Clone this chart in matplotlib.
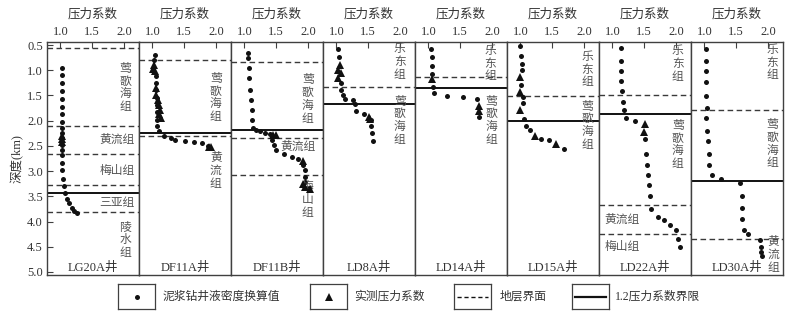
import matplotlib
matplotlib.use("Agg")
import matplotlib.pyplot as plt

plt.rcParams['font.family'] = ['Liberation Serif', 'Noto Sans CJK SC']
plt.rcParams['axes.unicode_minus'] = False

# ---------------- data ----------------
wells = ["LG20A井", "DF11A井", "DF11B井", "LD8A井", "LD14A井", "LD15A井", "LD22A井", "LD30A井"]

lg20a_mud_depth = [0.95, 1.10, 1.26, 1.41, 1.57, 1.72, 1.87, 2.03, 2.15, 2.25, 2.34, 2.48, 2.58, 2.68, 2.83, 2.98, 3.15, 3.30, 3.43, 3.55, 3.64, 3.74, 3.79, 3.83]
lg20a_mud_coef = [1.03, 1.03, 1.03, 1.03, 1.03, 1.03, 1.03, 1.03, 1.03, 1.03, 1.03, 1.03, 1.03, 1.03, 1.03, 1.03, 1.04, 1.05, 1.08, 1.11, 1.13, 1.18, 1.22, 1.26]
lg20a_meas_depth = [2.30, 2.36, 2.42]
lg20a_meas_coef = [1.02, 1.03, 1.02]

df11a_mud_depth = [0.70, 0.80, 1.11, 1.26, 1.39, 1.56, 1.69, 1.82, 1.99, 2.10, 2.20, 2.31, 2.34, 2.39, 2.40, 2.42, 2.45, 2.50]
df11a_mud_coef = [1.045, 1.03, 1.055, 1.06, 1.065, 1.075, 1.07, 1.08, 1.075, 1.07, 1.10, 1.19, 1.29, 1.36, 1.52, 1.66, 1.78, 1.87]
df11a_meas_depth = [0.90, 0.98, 1.02, 1.36, 1.49, 1.59, 1.69, 1.79, 1.86, 1.95, 2.52, 2.53]
df11a_meas_coef = [1.02, 1.01, 1.04, 1.06, 1.06, 1.09, 1.10, 1.12, 1.11, 1.13, 1.90, 1.92]

df11b_mud_depth = [0.65, 0.76, 0.96, 1.16, 1.39, 1.59, 1.79, 1.99, 2.15, 2.19, 2.21, 2.24, 2.27, 2.39, 2.49, 2.58, 2.66, 2.72, 2.75, 2.88, 2.98, 3.11, 3.21, 3.34]
df11b_mud_coef = [1.05, 1.06, 1.08, 1.08, 1.095, 1.105, 1.115, 1.12, 1.14, 1.185, 1.25, 1.33, 1.40, 1.44, 1.475, 1.50, 1.63, 1.755, 1.84, 1.93, 1.95, 1.96, 1.95, 2.02]
df11b_meas_depth = [2.29, 2.29, 2.79, 3.26, 3.31, 3.36]
df11b_meas_coef = [1.45, 1.50, 1.93, 1.92, 1.96, 2.03]

ld8a_mud_depth = [0.58, 0.745, 1.26, 1.39, 1.49, 1.58, 1.59, 1.67, 1.80, 1.86, 1.99, 2.11, 2.24, 2.40]
ld8a_mud_coef = [1.026, 1.04, 1.08, 1.08, 1.10, 1.14, 1.27, 1.29, 1.31, 1.43, 1.55, 1.55, 1.56, 1.57]
ld8a_meas_depth = [0.90, 1.00, 1.06, 1.16, 1.92, 1.96]
ld8a_meas_coef = [1.05, 1.03, 1.066, 1.02, 1.51, 1.53]

ld14a_mud_depth = [0.586, 0.745, 0.917, 1.075, 1.33, 1.45, 1.51, 1.53, 1.57, 1.93]
ld14a_mud_coef = [1.04, 1.05, 1.06, 1.06, 1.08, 1.09, 1.30, 1.55, 1.76, 1.80]
ld14a_meas_depth = [1.18, 1.71, 1.80]
ld14a_meas_coef = [1.06, 1.79, 1.80]

ld15a_mud_depth = [0.52, 0.72, 0.88, 1.00, 1.29, 1.54, 1.64, 1.97, 2.11, 2.19, 2.37, 2.38, 2.56]
ld15a_mud_coef = [1.00, 1.015, 1.026, 1.026, 1.015, 1.04, 1.04, 1.06, 1.09, 1.16, 1.33, 1.45, 1.68]
ld15a_meas_depth = [1.14, 1.43, 1.79, 2.30, 2.46]
ld15a_meas_coef = [1.00, 0.99, 1.00, 1.23, 1.56]

ld22a_mud_depth = [0.55, 0.82, 1.02, 1.21, 1.41, 1.62, 1.79, 1.95, 2.00, 2.37, 2.66, 2.88, 3.08, 3.28, 3.49, 3.75, 3.91, 3.96, 4.06, 4.17, 4.34, 4.51]
ld22a_mud_coef = [1.14, 1.14, 1.14, 1.14, 1.155, 1.165, 1.18, 1.21, 1.36, 1.52, 1.53, 1.545, 1.56, 1.58, 1.60, 1.615, 1.72, 1.82, 1.91, 2.00, 2.03, 2.06]
ld22a_meas_depth = [2.07, 2.22]
ld22a_meas_coef = [1.51, 1.495]

ld30a_mud_depth = [0.585, 0.82, 1.02, 1.23, 1.52, 1.74, 1.95, 2.20, 2.40, 2.66, 2.88, 3.08, 3.16, 3.24, 3.50, 3.74, 3.94, 4.16, 4.25, 4.37, 4.50, 4.60, 4.69]
ld30a_mud_coef = [1.02, 1.02, 1.02, 1.02, 1.02, 1.036, 1.03, 1.036, 1.05, 1.07, 1.08, 1.12, 1.26, 1.56, 1.59, 1.59, 1.59, 1.62, 1.68, 1.87, 1.89, 1.90, 1.91]
ld30a_meas_depth = []
ld30a_meas_coef = []

# stratigraphic boundaries (depth, km) and 1.2 pressure-coefficient limit
strata_depths = [
    [0.55, 2.10, 2.67, 3.27, 3.81],
    [0.80, 2.30],
    [0.83, 2.34, 3.07],
    [1.33],
    [1.14],
    [1.52],
    [1.49, 3.67, 4.24],
    [1.78, 4.34],
]
limit_depths = [3.43, 2.24, 2.19, 1.66, 1.36, 2.01, 1.87, 3.20]

mud_depth = [lg20a_mud_depth, df11a_mud_depth, df11b_mud_depth, ld8a_mud_depth,
             ld14a_mud_depth, ld15a_mud_depth, ld22a_mud_depth, ld30a_mud_depth]
mud_coef = [lg20a_mud_coef, df11a_mud_coef, df11b_mud_coef, ld8a_mud_coef,
            ld14a_mud_coef, ld15a_mud_coef, ld22a_mud_coef, ld30a_mud_coef]
meas_depth = [lg20a_meas_depth, df11a_meas_depth, df11b_meas_depth, ld8a_meas_depth,
              ld14a_meas_depth, ld15a_meas_depth, ld22a_meas_depth, ld30a_meas_depth]
meas_coef = [lg20a_meas_coef, df11a_meas_coef, df11b_meas_coef, ld8a_meas_coef,
             ld14a_meas_coef, ld15a_meas_coef, ld22a_meas_coef, ld30a_meas_coef]

# formation labels: (text, x in coef units, depth, vertical)
formation_labels = [
    [("莺歌海组", 2.02, 1.35, True), ("黄流组", 1.89, 2.38, False), ("梅山组", 1.89, 3.00, False),
     ("三亚组", 1.89, 3.63, False), ("陵水组", 2.02, 4.37, True)],
    [("莺歌海组", 2.00, 1.55, True), ("黄流组", 2.00, 3.00, True)],
    [("莺歌海组", 2.00, 1.58, True), ("黄流组", 1.85, 2.52, False), ("梅山组", 2.00, 3.57, True)],
    [("乐东组", 2.00, 0.84, True), ("莺歌海组", 2.00, 2.00, True)],
    [("乐东组", 1.97, 0.87, True), ("莺歌海组", 1.99, 2.00, True)],
    [("乐东组", 2.05, 0.99, True), ("莺歌海组", 2.05, 2.10, True)],
    [("乐东组", 2.03, 0.88, True), ("莺歌海组", 2.03, 2.48, True), ("黄流组", 1.15, 3.97, False),
     ("梅山组", 1.15, 4.50, False)],
    [("乐东组", 2.07, 0.85, True), ("莺歌海组", 2.07, 2.47, True), ("黄流组", 2.08, 4.66, True)],
]

x_ticks = [1.0, 1.5, 2.0]
y_ticks = [0.5, 1.0, 1.5, 2.0, 2.5, 3.0, 3.5, 4.0, 4.5, 5.0]

# ---------------- plotting ----------------
W, H = 792, 312
fig = plt.figure(figsize=(W / 100, H / 100), dpi=100)
left_px, right_px, top_px, bot_px = 47, 783, 42, 275
n = len(wells)
pw = (right_px - left_px) / n

frame_col = '#404040'
label_col = '#555555'
text_col = '#333333'

for i in range(n):
    ax = fig.add_axes([(left_px + i * pw) / W, 1 - bot_px / H, pw / W, (bot_px - top_px) / H])
    ax.set_xlim(0.79, 0.79 + pw / 63.5)
    ax.set_ylim(5.06, 0.44)
    for s in ax.spines.values():
        s.set_color(frame_col)
        s.set_linewidth(1.0)
    ax.xaxis.tick_top()
    ax.set_xticks(x_ticks)
    ax.set_xticklabels([f"{t:.1f}" for t in x_ticks], fontsize=9, color=text_col)
    ax.tick_params(axis='x', direction='in', length=4, width=0.8, color=frame_col, pad=3)
    if i == 0:
        ax.set_yticks(y_ticks)
        ax.set_yticklabels([f"{t:.1f}" for t in y_ticks], fontsize=9, color=text_col)
        ax.tick_params(axis='y', direction='in', length=4, width=0.8, color=frame_col, pad=3)
        ax.set_ylabel("深度(km)", fontsize=9, labelpad=2, color=text_col, fontweight='light')
    else:
        ax.set_yticks([])
    ax.set_xlabel("压力系数", fontsize=9, labelpad=6, color=text_col, fontweight='light')
    ax.xaxis.set_label_position('top')

    for d in strata_depths[i]:
        ax.axhline(d, color='#3a3a3a', lw=1.0, ls=(0, (4, 2.5)))
    ax.axhline(limit_depths[i], color='#111111', lw=1.4)

    ax.plot(mud_coef[i], mud_depth[i], 'o', color='#111111', ms=3.6, mew=0, zorder=3)
    if meas_coef[i]:
        ax.plot(meas_coef[i], meas_depth[i], '^', color='#111111', ms=5.5, mew=0, zorder=4)

    for txt, xc, dc, vert in formation_labels[i]:
        if vert:
            ax.text(xc, dc, "\n".join(txt), fontsize=8.5, color=label_col, ha='center', va='center',
                    linespacing=1.08, fontweight='light')
        else:
            ax.text(xc, dc, txt, fontsize=8.5, color=label_col, ha='center', va='center',
                    fontweight='light')

    ax.text(0.5, 4.92, wells[i], transform=ax.get_yaxis_transform(), fontsize=9,
            color=text_col, ha='center', va='center', fontweight='light')

# ---------------- legend ----------------
legend_items = [
    ("marker", "o", 3.6, "泥浆钻井液密度换算值", 118, 163),
    ("marker", "^", 5.5, "实测压力系数", 310, 354),
    ("line", (0, (3, 2)), 1.0, "地层界面", 454, 500),
    ("line", "-", 1.6, "1.2压力系数界限", 572, 615),
]
box_w, box_h, box_top = 37, 25, 284
for kind, style, size, label, bx, tx in legend_items:
    lax = fig.add_axes([bx / W, 1 - (box_top + box_h) / H, box_w / W, box_h / H])
    lax.set_xlim(0, 1)
    lax.set_ylim(0, 1)
    lax.set_xticks([])
    lax.set_yticks([])
    for s in lax.spines.values():
        s.set_color(frame_col)
        s.set_linewidth(0.9)
    if kind == "marker":
        lax.plot([0.5], [0.5], style, color='#111111', ms=size, mew=0)
    else:
        lax.plot([0.08, 0.92], [0.5, 0.5], color='#111111', lw=size, ls=style)
    fig.text(tx / W, 1 - (box_top + box_h / 2) / H, label, fontsize=8.5, color=text_col,
             ha='left', va='center', fontweight='light')

fig.savefig("out.png", dpi=100)
